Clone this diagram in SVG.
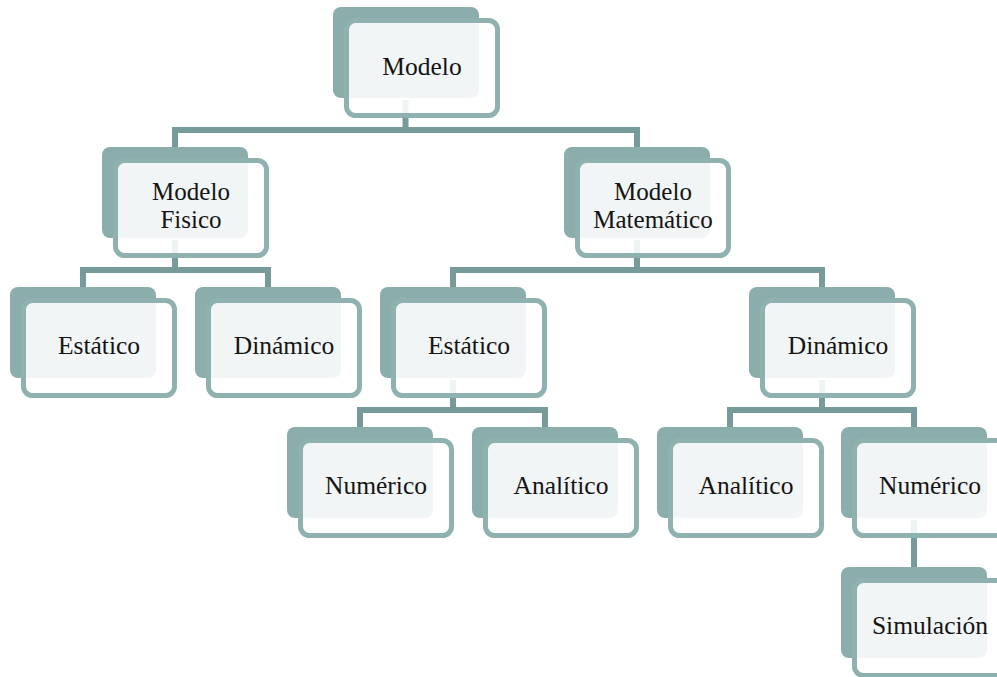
<svg xmlns="http://www.w3.org/2000/svg" width="997" height="677" viewBox="0 0 997 677">
  <style>
    .link { fill: none; stroke: #779a9a; stroke-width: 6; stroke-linejoin: miter; stroke-linecap: butt; }
    .back { fill: #8badac; }
    .front { fill: #ffffff; fill-opacity: 0.88; stroke: #8fb1b0; stroke-width: 5; }
    .label { font-family: "Liberation Serif", "DejaVu Serif", serif; font-size: 25.5px; fill: #141414; text-anchor: middle; }
    .label2 { font-family: "Liberation Serif", "DejaVu Serif", serif; font-size: 25px; fill: #141414; text-anchor: middle; }
  </style>
  <defs>
    <g id="card">
      <rect class="back" x="0" y="0" width="146" height="91" rx="8"/>
      <rect class="front" x="13.5" y="13.5" width="151" height="95" rx="9"/>
    </g>
  </defs>
  <rect width="997" height="677" fill="#ffffff"/>

  <g id="connectors">
    <!-- Modelo -> Fisico / Matemático -->
    <path class="link" d="M405.5,100 V130 M175,150 V130 H637 V150"/>
    <!-- Fisico -> Estático / Dinámico -->
    <path class="link" d="M175,240 V270 M83,290 V270 H268 V290"/>
    <!-- Matemático -> Estático / Dinámico -->
    <path class="link" d="M637,240 V270 M453,290 V270 H822 V290"/>
    <!-- Estático -> Numérico / Analítico -->
    <path class="link" d="M453,380 V410 M360,430 V410 H545 V430"/>
    <!-- Dinámico -> Analítico / Numérico -->
    <path class="link" d="M822,380 V410 M730,430 V410 H914 V430"/>
    <!-- Numérico -> Simulación -->
    <path class="link" d="M914,520 V570"/>
  </g>

  <g id="modelo" transform="translate(333,7)">
    <use href="#card"/>
    <text class="label" x="89" y="68">Modelo</text>
  </g>
  <g id="modelo-fisico" transform="translate(102,147)">
    <use href="#card"/>
    <text class="label2" x="89" y="53">Modelo</text>
    <text class="label2" x="89" y="81">Fisico</text>
  </g>
  <g id="modelo-matematico" transform="translate(564,147)">
    <use href="#card"/>
    <text class="label2" x="89" y="53">Modelo</text>
    <text class="label2" x="89" y="81">Matemático</text>
  </g>
  <g id="fisico-estatico" transform="translate(10,287)">
    <use href="#card"/>
    <text class="label" x="89" y="67">Estático</text>
  </g>
  <g id="fisico-dinamico" transform="translate(195,287)">
    <use href="#card"/>
    <text class="label" x="89" y="67">Dinámico</text>
  </g>
  <g id="mat-estatico" transform="translate(380,287)">
    <use href="#card"/>
    <text class="label" x="89" y="67">Estático</text>
  </g>
  <g id="mat-dinamico" transform="translate(749,287)">
    <use href="#card"/>
    <text class="label" x="89" y="67">Dinámico</text>
  </g>
  <g id="estatico-numerico" transform="translate(287,427)">
    <use href="#card"/>
    <text class="label" x="89" y="67">Numérico</text>
  </g>
  <g id="estatico-analitico" transform="translate(472,427)">
    <use href="#card"/>
    <text class="label" x="89" y="67">Analítico</text>
  </g>
  <g id="dinamico-analitico" transform="translate(657,427)">
    <use href="#card"/>
    <text class="label" x="89" y="67">Analítico</text>
  </g>
  <g id="dinamico-numerico" transform="translate(841,427)">
    <use href="#card"/>
    <text class="label" x="89" y="67">Numérico</text>
  </g>
  <g id="simulacion" transform="translate(841,567)">
    <use href="#card"/>
    <text class="label" x="89" y="67">Simulación</text>
  </g>
</svg>
